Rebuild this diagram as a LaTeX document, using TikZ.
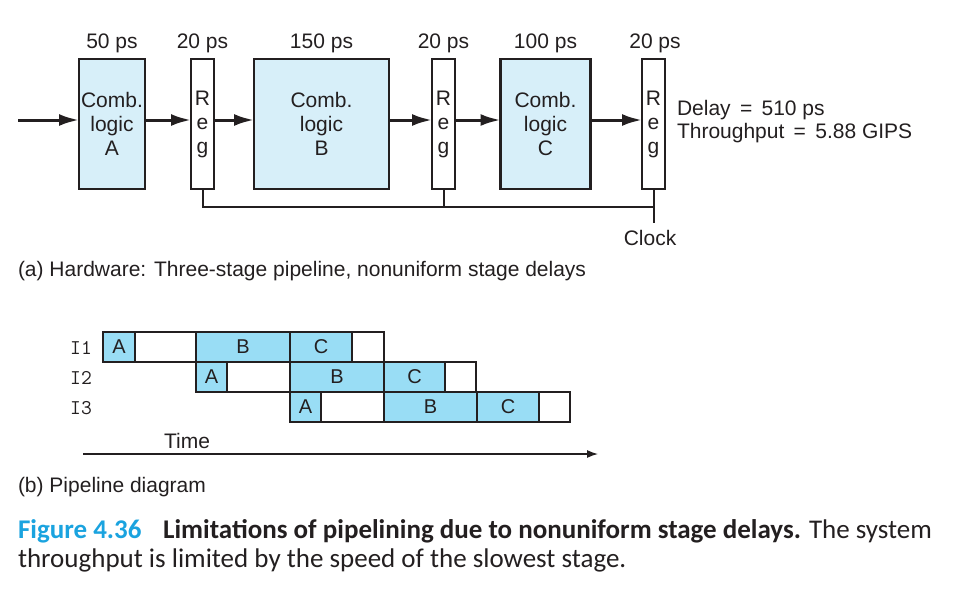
\documentclass[tikz,border=0pt]{standalone}
\usepackage{fontspec}
\setmainfont{Liberation Sans}
\newfontfamily\capfont{Carlito}
\usetikzlibrary{arrows.meta}
\definecolor{combfill}{RGB}{215,239,249}
\definecolor{pfill}{RGB}{153,221,245}
\definecolor{capblue}{RGB}{26,163,223}
\definecolor{ink}{RGB}{35,31,32}
\begin{document}
\begin{tikzpicture}[x=1pt,y=-1pt,
  every node/.style={inner sep=0pt,outer sep=0pt,text=ink},
  txt/.style={font=\fontsize{21}{24}\selectfont},
  combbox/.style={draw=ink,line width=2.5pt,fill=combfill,align=center,
    font=\fontsize{21}{24}\selectfont,minimum height=130pt},
  regbox/.style={draw=ink,line width=2.5pt,fill=white,align=center,
    font=\fontsize{21}{24}\selectfont,minimum height=130pt,minimum width=23pt},
  flow/.style={draw=ink,line width=3pt,-{Latex[length=20pt,width=12pt]}},
  clk/.style={draw=ink,line width=2pt},
  pcell/.style={draw=ink,line width=2.5pt,minimum height=30pt,font=\fontsize{20}{24}\selectfont},
  bcell/.style={pcell,fill=pfill},
  wcell/.style={pcell,fill=white},
  rowlab/.style={font=\fontsize{21}{24}\ttfamily},
]
\useasboundingbox (0,0) rectangle (960,602);

% ---------- hardware ----------
\node[combbox,minimum width=66pt] (A) at (112,124) {Comb.\\logic\\A};
\node[regbox] (r1) at (202.5,124) {R\\e\\g};
\node[combbox,minimum width=135pt] (B) at (321.5,124) {Comb.\\logic\\B};
\node[regbox] (r2) at (443.5,124) {R\\e\\g};
\node[combbox,minimum width=90pt] (C) at (545.5,124) {Comb.\\logic\\C};
\node[regbox] (r3) at (653.5,124) {R\\e\\g};

\node[txt] (dA) at (112,43) {50 ps};
\node[txt] (d1) at (202.5,43) {20 ps};
\node[txt] (dB) at (321.5,43) {150 ps};
\node[txt] (d2) at (443.5,43) {20 ps};
\node[txt] (dC) at (545.5,43) {100 ps};
\node[txt] (d3) at (655,43) {20 ps};

\coordinate (in) at (18,120);
\draw[flow] (in) -- (A.west |- in);
\draw[flow] (A.east |- in) -- (r1.west |- in);
\draw[flow] (r1.east |- in) -- (B.west |- in);
\draw[flow] (B.east |- in) -- (r2.west |- in);
\draw[flow] (r2.east |- in) -- (C.west |- in);
\draw[flow] (C.east |- in) -- (r3.west |- in);

\coordinate (cj) at (653.5,207);
\coordinate (ck) at (653.5,223);
\draw[clk] (r1.south) |- (cj);
\draw[clk] (r2.south) -- (r2.south |- cj);
\draw[clk] (r3.south) -- (ck);
\node[txt] (clock) at (650,238) {Clock};

\node[txt,anchor=west,align=left,font=\fontsize{21}{23}\selectfont] (perf) at (677,122)
  {Delay \,=\, 510 ps\\Throughput \,=\, 5.88 GIPS};

\node[txt,anchor=base west] (capa) at (18,276) {(a) Hardware: Three-stage pipeline, nonuniform stage delays};

% ---------- pipeline diagram ----------
\node[rowlab] (l1) at (81,348) {I1};
\node[rowlab] (l2) at (81,378) {I2};
\node[rowlab] (l3) at (81,408) {I3};

% row 1
\node[bcell,minimum width=32pt] (a1) at (119,347) {A};
\node[wcell,minimum width=61pt] (w1a) at (165.5,347) {};
\node[bcell,minimum width=94pt] (b1) at (243,347) {B};
\node[bcell,minimum width=62pt] (c1) at (321,347) {C};
\node[wcell,minimum width=32pt] (w1b) at (368,347) {};
% row 2
\node[bcell,minimum width=31pt] (a2) at (211.5,377) {A};
\node[wcell,minimum width=63pt] (w2a) at (258.5,377) {};
\node[bcell,minimum width=94pt] (b2) at (337,377) {B};
\node[bcell,minimum width=61pt] (c2) at (414.5,377) {C};
\node[wcell,minimum width=31pt] (w2b) at (460.5,377) {};
% row 3
\node[bcell,minimum width=31pt] (a3) at (305.5,407) {A};
\node[wcell,minimum width=63pt] (w3a) at (352.5,407) {};
\node[bcell,minimum width=93pt] (b3) at (430.5,407) {B};
\node[bcell,minimum width=62pt] (c3) at (508,407) {C};
\node[wcell,minimum width=31pt] (w3b) at (554.5,407) {};

\node[txt] (time) at (187,441) {Time};
\coordinate (t0) at (83,454);
\coordinate (t1) at (598,454);
\draw[draw=ink,line width=1.3pt,-{Latex[length=11pt,width=8pt]}] (t0) -- (t1);

\node[txt,anchor=base west] (capb) at (18,492) {(b) Pipeline diagram};

% ---------- caption ----------
\node[anchor=base west,font=\fontsize{27}{28}\capfont] (cap1) at (18,538)
  {\textcolor{capblue}{\bfseries Figure 4.36}\hspace{0.8em}{\bfseries Limitations of pipelining due to nonuniform stage delays.} The system};
\node[anchor=base west,font=\fontsize{27}{28}\capfont] (cap2) at (18,567)
  {throughput is limited by the speed of the slowest stage.};
\end{tikzpicture}
\end{document}
